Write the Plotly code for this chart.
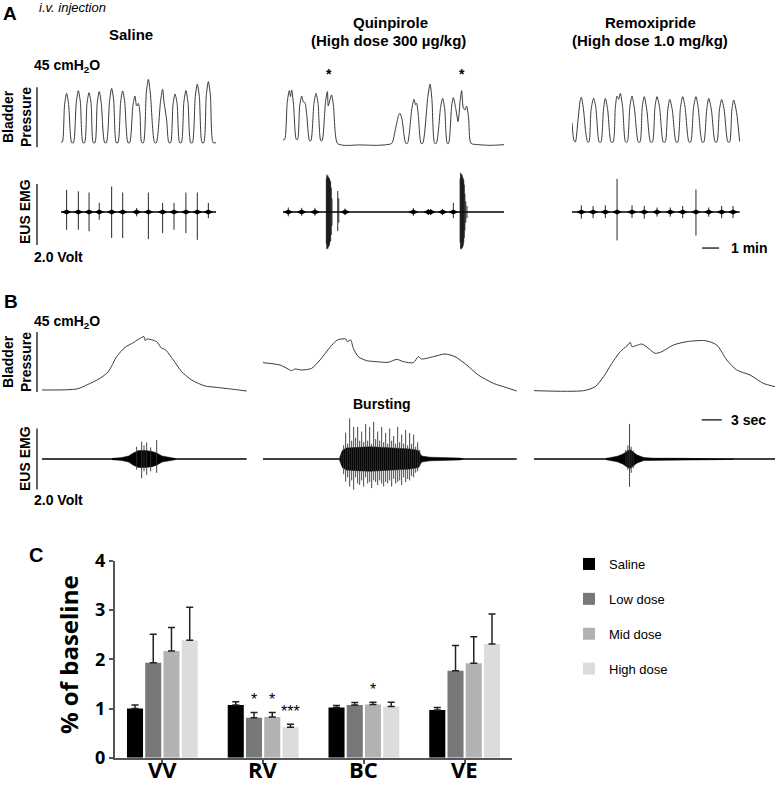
import plotly.graph_objects as go

W, H = 777, 786


def px_x(x):
    return x / W


def px_y(y):
    return 1 - y / H


# ---------------- Panel A : bladder pressure (time in min, cmH2O) ----------------
a_sal_t = [0, 0.08, 0.21, 0.33, 0.45, 0.63, 0.73, 0.90, 1.02, 1.14, 1.29, 1.39,
           1.53, 1.65, 1.77, 1.90, 2.00, 2.13, 2.25, 2.37, 2.57, 2.67, 2.86, 2.98, 3.10,
           3.25, 3.35, 3.51, 3.63, 3.75, 3.94, 4.04, 4.23, 4.35, 4.45, 4.55, 4.65,
           4.75, 4.85, 5.02, 5.14, 5.26, 5.51, 5.61, 5.86, 5.98, 6.06, 6.12, 6.22,
           6.35, 6.45, 6.59, 6.71, 6.83, 6.98, 7.08, 7.23, 7.35, 7.47, 7.63, 7.73,
           7.90, 8.02, 8.14, 8.30, 8.40, 8.55, 8.67, 8.79, 8.95, 9.12]
a_sal_p = [4, 4, 32, 40.5, 32, 3.5, 3.5, 34, 42.5, 34, 3.5, 3.5,
           33, 41, 33, 3.5, 3.5, 33, 41.8, 33, 3.5, 3.5, 35, 44.3, 35,
           3.5, 3.5, 34, 42.3, 34, 3.5, 3.5, 31, 38.5, 31, 33, 25,
           3.5, 3.5, 41, 51, 40, 3.5, 3.5, 35, 43.5, 34, 29, 20,
           3.5, 3.5, 32, 40, 33, 3.5, 3.5, 34, 42.5, 34, 3.5, 3.5,
           38, 47.5, 38, 3.5, 3.5, 39, 49.3, 39, 3.5, 3.5]

a_qui_t = [0, 0.1, 0.25, 0.37, 0.44, 0.51, 0.62, 0.78, 0.86, 0.98, 1.10, 1.20, 1.29, 1.40,
           1.56, 1.64, 1.82, 1.94, 2.06, 2.22, 2.30, 2.50, 2.61, 2.66, 2.75, 2.86, 2.97,
           3.20, 3.60, 4.50, 5.50, 6.10, 6.40, 6.62, 6.80, 6.88, 7.00, 7.22, 7.32,
           7.58, 7.71, 7.80, 7.86, 7.96, 8.12, 8.22, 8.52, 8.65, 8.76, 8.92, 9.02,
           9.27, 9.39, 9.51, 9.66, 9.74, 9.92, 10.02, 10.15, 10.30, 10.42, 10.51, 10.60,
           10.70, 10.80, 10.92, 11.06, 11.5, 12.2, 13.0]
a_qui_p = [5.5, 6, 34, 42.5, 38, 43, 32, 6, 6, 31, 38.5, 34, 33.5, 24,
           5, 5, 33, 40.5, 33, 5, 5, 34, 41.8, 31, 35, 39.3, 31,
           3, 1.5, 1.8, 1.5, 2, 3, 14, 24, 25.5, 21, 3, 3,
           29, 36, 32, 33, 24, 3, 3, 38, 47.5, 36, 3, 3,
           30, 36.8, 29, 3, 3, 31, 37.3, 30, 19.3, 35, 42.5, 30,
           28, 31, 22, 3, 2, 1.5, 2]

a_rem_t = [0.00, 0.12, 0.20, 0.35, 0.48, 0.55, 0.68, 0.80, 0.92,
           1.00, 1.12, 1.27, 1.40, 1.60, 1.70, 1.85, 1.96, 2.10, 2.30,
           2.42, 2.55, 2.65, 2.75, 2.84, 2.98, 3.15,
           3.25, 3.40, 3.53, 3.68, 3.90, 4.00, 4.13, 4.25, 4.40, 4.62,
           4.73, 4.88, 5.00, 5.15, 5.37, 5.48, 5.63, 5.75, 5.90, 6.12,
           6.22, 6.38, 6.51, 6.65, 6.88, 6.98, 7.15, 7.29, 7.42, 7.65,
           7.75, 7.92, 8.04, 8.20, 8.42, 8.52, 8.67, 8.80, 8.95, 9.17,
           9.27, 9.40, 9.51, 9.68, 9.86]
a_rem_p = [18.5, 5, 4, 20, 35, 37.5, 28, 12, 4,
           4, 28, 36.8, 30, 4, 4, 28, 36.8, 28, 4,
           4, 30, 38.5, 36, 40.5, 30, 4,
           4, 30, 38.5, 28, 4, 4, 30, 38, 28, 4,
           4, 30, 38, 30, 4, 4, 28, 36, 28, 4,
           4, 30, 38, 30, 4, 4, 30, 38, 30, 4,
           4, 28, 36.8, 28, 4, 4, 28, 36, 28, 4,
           4, 28, 35.5, 26, 4.3]

# ---------------- Panel A : EUS EMG spikes (time in min, volts) ----------------
a_sal_emg_t = [0.33, 1.02, 1.65, 2.25, 2.98, 3.63, 4.45, 5.14, 5.98, 6.65, 7.35, 8.02, 8.67]
a_sal_emg_hi = [0.73, 0.68, 0.64, 0.30, 0.84, 0.64, 0.13, 0.64, 0.30, 0.30, 0.64, 0.64, 0.30]
a_sal_emg_lo = [-0.58, -0.58, -0.63, -0.25, -0.85, -0.85, -0.14, -0.89, -0.69, -0.58, -0.69, -0.91, -0.20]

a_qui_emg_t = [0.31, 1.10, 1.88, 2.55, 2.58, 2.61, 2.64, 2.67, 2.70, 2.73, 2.76, 2.80, 2.84, 2.88,
               3.22, 3.28, 3.65, 7.67, 8.55, 8.69, 9.39, 10.02,
               10.42, 10.45, 10.48, 10.51, 10.54, 10.57, 10.60, 10.63, 10.66, 10.70, 10.75, 10.82]
a_qui_emg_hi = [0.15, 0.14, 0.14, 1.10, 1.23, 1.18, 1.20, 1.15, 1.12, 1.10, 1.05, 1.00, 0.80, 0.45,
                0.69, 0.45, 0.12, 0.13, 0.10, 0.10, 0.10, 0.30,
                1.10, 1.29, 1.22, 1.25, 1.20, 1.15, 1.10, 1.05, 0.90, 0.60, 0.35, 0.20]
a_qui_emg_lo = [-0.14, -0.12, -0.12, -1.05, -1.22, -1.18, -1.20, -1.15, -1.12, -1.08, -1.00, -0.95, -0.75, -0.45,
                -0.62, -0.35, -0.10, -0.12, -0.10, -0.10, -0.10, -0.20,
                -1.00, -1.20, -1.22, -1.20, -1.18, -1.15, -1.10, -1.00, -0.85, -0.60, -0.35, -0.20]
a_qui_blob_t = [0.31, 1.10, 1.88, 3.65, 7.67, 8.55, 8.69, 9.39, 10.02]

a_rem_emg_t = [0.55, 1.24, 1.96, 2.65, 3.53, 4.25, 5.00, 5.78, 6.51, 7.29, 8.04, 8.80, 9.47]
a_rem_emg_hi = [0.22, 0.20, 0.22, 1.09, 0.22, 0.20, 0.15, 0.15, 0.20, 0.74, 0.15, 0.20, 0.20]
a_rem_emg_lo = [-0.22, -0.20, -0.20, -0.93, -0.20, -0.22, -0.15, -0.15, -0.20, -0.77, -0.15, -0.20, -0.20]

# ---------------- Panel B : single voiding cycle (time in s, cmH2O) ----------------
b_sal_t = [0, 5.2, 6.7, 8.7, 9.95, 11.2, 12.45, 13.7, 14.95, 15.3, 15.5, 15.7, 17.2,
           17.95, 18.45, 19.7, 20.95, 22.45, 24.45, 26.2, 28.7, 30.7]
b_sal_p = [3.75, 4.5, 7.5, 12.5, 17.5, 28.75, 35.75, 39.25, 43.25, 43.75, 40.75, 42, 40,
           35, 34.25, 26.25, 17.5, 11.25, 6.75, 5.75, 4.25, 3]

b_qui_t = [0, 2.55, 3.3, 4.3, 4.8, 5.8, 7.3, 8.55, 10.05, 11.15, 12.45, 12.65, 13.15, 13.55,
           14.3, 15.55, 17.05, 18.8, 20.05, 21.05, 22.55, 23.3, 23.8, 25.55, 27.3, 28.8,
           30.55, 32.3, 34.55, 36.55, 38.05]
b_qui_p = [24.25, 22.5, 20.75, 18.25, 19.5, 18.75, 20, 26.25, 35.75, 41.25, 42, 40, 41.25, 35,
           28.75, 25.75, 25, 24.5, 26.75, 25, 24.25, 28.75, 27, 28.75, 30.75, 28.75,
           22.5, 15, 8.75, 5.5, 3]

b_rem_t = [0, 7.45, 9.2, 10.45, 11.7, 12.95, 13.95, 14.45, 14.7, 16.2, 17.2, 18.2, 19.2,
           20.95, 22.95, 25.7, 27.45, 28.95, 30.45, 32.45, 34.45, 36.2]
b_rem_p = [3.25, 3.25, 6.25, 13.75, 23.75, 32.5, 36.75, 39.5, 36.25, 38.25, 35, 31.25, 32.5,
           37.5, 40, 40.75, 37.5, 26.25, 18.75, 15, 8.75, 6.25]

# ---------------- Panel B : EMG (core envelope + tall spikes, volts) ----------------
b_sal_env_t = [10.5, 12.0, 13.0, 13.7, 14.5, 15.5, 16.5, 17.2, 18.0, 19.0, 20.0]
b_sal_env_a = [0.02, 0.05, 0.10, 0.20, 0.28, 0.28, 0.25, 0.20, 0.10, 0.05, 0.02]
b_sal_sp_t = [14.2, 14.95, 15.3, 15.7, 16.3, 17.2]
b_sal_sp_hi = [0.40, 0.57, 0.45, 0.54, 0.38, 0.62]
b_sal_sp_lo = [-0.35, -0.63, -0.40, -0.52, -0.40, -0.45]

b_qui_env_t = [11.5, 11.9, 12.5, 14.0, 16.0, 18.0, 20.0, 22.0, 23.3, 23.8, 25.0, 27.0, 29.5, 30.0]
b_qui_env_a = [0.05, 0.28, 0.36, 0.38, 0.40, 0.38, 0.36, 0.33, 0.28, 0.10, 0.06, 0.05, 0.03, 0.01]
b_qui_sp_t = [11.8, 12.1, 12.4, 12.7, 13.0, 13.3, 13.6, 13.9, 14.2, 14.5, 14.8, 15.1, 15.4, 15.7,
              16.0, 16.3, 16.6, 16.9, 17.2, 17.5, 17.8, 18.1, 18.4, 18.7, 19.0, 19.3, 19.6,
              19.9, 20.2, 20.5, 20.8, 21.1, 21.4, 21.7, 22.0, 22.3, 22.6, 22.9, 23.2, 23.5]
b_qui_sp_hi = [0.20, 0.45, 0.86, 0.50, 1.33, 0.60, 1.05, 0.70, 1.05, 0.60, 0.90, 0.55, 1.15, 0.60,
               1.05, 0.50, 1.22, 0.65, 0.90, 0.60, 1.05, 0.55, 0.85, 0.50, 1.00, 0.60, 0.75,
               0.50, 1.05, 0.55, 0.80, 0.50, 0.95, 0.45, 0.85, 0.50, 0.80, 0.40, 0.55, 0.30]
b_qui_sp_lo = [-0.15, -0.50, -0.74, -0.60, -0.90, -0.70, -1.00, -0.60, -0.80, -0.85, -0.70, -0.90, -0.60, -0.80,
               -0.75, -0.95, -0.70, -0.75, -0.85, -0.70, -0.80, -0.90, -0.75, -0.80, -0.70, -0.90, -0.65,
               -0.80, -0.75, -0.70, -0.85, -0.60, -0.75, -0.65, -0.70, -0.55, -0.60, -0.45, -0.40, -0.25]

b_rem_env_t = [10.8, 11.5, 12.5, 13.3, 14.0, 14.4, 14.9, 15.5, 16.5, 18.0, 22.0, 25.0, 29.5, 30.0]
b_rem_env_a = [0.02, 0.05, 0.09, 0.16, 0.26, 0.31, 0.23, 0.13, 0.05, 0.025, 0.025, 0.02, 0.015, 0.005]
b_rem_sp_t = [13.8, 14.1, 14.35, 14.6, 14.9]
b_rem_sp_hi = [0.30, 0.45, 1.15, 0.40, 0.28]
b_rem_sp_lo = [-0.25, -0.35, -0.91, -0.45, -0.30]

# ---------------- Panel C : bar chart ----------------
groups = ["VV", "RV", "BC", "VE"]
series_names = ["Saline", "Low dose", "Mid dose", "High dose"]
series_colors = ["#000000", "#787878", "#b2b2b2", "#dcdcdc"]
saline = [1.00, 1.07, 1.02, 0.97]
saline_err = [0.07, 0.07, 0.04, 0.05]
low_dose = [1.93, 0.81, 1.07, 1.77]
low_err = [0.58, 0.11, 0.05, 0.51]
mid_dose = [2.17, 0.83, 1.08, 1.92]
mid_err = [0.48, 0.09, 0.05, 0.54]
high_dose = [2.39, 0.62, 1.04, 2.31]
high_err = [0.67, 0.06, 0.09, 0.61]
sig_group = ["RV", "RV", "RV", "BC"]
sig_series = [1, 2, 3, 2]
sig_text = ["*", "*", "***", "*"]

TRACE_COLOR = "#3a3a3a"


def spikes(t, hi, lo):
    xs, ys = [], []
    for ti, h, l in zip(t, hi, lo):
        xs += [ti, ti, None]
        ys += [l, h, None]
    return xs, ys


def envelope(t, amp):
    return t + t[::-1], amp + [-a for a in amp[::-1]]


fig = go.Figure()

# bladder pressure traces
for xa, ya, t, p in [("x", "y", a_sal_t, a_sal_p), ("x2", "y", a_qui_t, a_qui_p),
                     ("x3", "y", a_rem_t, a_rem_p), ("x4", "y3", b_sal_t, b_sal_p),
                     ("x5", "y3", b_qui_t, b_qui_p), ("x6", "y3", b_rem_t, b_rem_p)]:
    fig.add_trace(go.Scatter(x=t, y=p, xaxis=xa, yaxis=ya, mode="lines",
                             line=dict(color=TRACE_COLOR, width=1, shape="spline", smoothing=0.7),
                             showlegend=False, hoverinfo="skip"))

# EMG baselines
for xa, ya, t_end in [("x", "y2", a_sal_t[-1]), ("x2", "y2", a_qui_t[-1]), ("x3", "y2", a_rem_t[-1]),
                      ("x4", "y4", b_sal_t[-1]), ("x5", "y4", b_qui_t[-1]), ("x6", "y4", b_rem_t[-1])]:
    fig.add_trace(go.Scatter(x=[0, t_end], y=[0, 0], xaxis=xa, yaxis=ya, mode="lines",
                             line=dict(color="black", width=1.5),
                             showlegend=False, hoverinfo="skip"))

# EMG spikes, panel A
for xa, t, hi, lo, blobs in [("x", a_sal_emg_t, a_sal_emg_hi, a_sal_emg_lo, a_sal_emg_t),
                             ("x2", a_qui_emg_t, a_qui_emg_hi, a_qui_emg_lo, a_qui_blob_t),
                             ("x3", a_rem_emg_t, a_rem_emg_hi, a_rem_emg_lo, a_rem_emg_t)]:
    xs, ys = spikes(t, hi, lo)
    fig.add_trace(go.Scatter(x=xs, y=ys, xaxis=xa, yaxis="y2", mode="lines",
                             line=dict(color="#111111", width=0.9), connectgaps=False,
                             showlegend=False, hoverinfo="skip"))
    fig.add_trace(go.Scatter(x=blobs, y=[0] * len(blobs), xaxis=xa, yaxis="y2", mode="markers",
                             marker=dict(symbol="diamond-wide", size=7, color="black"),
                             showlegend=False, hoverinfo="skip"))

# EMG bursts, panel B
for xa, et, ea, st, sh, sl in [("x4", b_sal_env_t, b_sal_env_a, b_sal_sp_t, b_sal_sp_hi, b_sal_sp_lo),
                               ("x5", b_qui_env_t, b_qui_env_a, b_qui_sp_t, b_qui_sp_hi, b_qui_sp_lo),
                               ("x6", b_rem_env_t, b_rem_env_a, b_rem_sp_t, b_rem_sp_hi, b_rem_sp_lo)]:
    ex, ey = envelope(et, ea)
    fig.add_trace(go.Scatter(x=ex, y=ey, xaxis=xa, yaxis="y4", mode="lines", fill="toself",
                             fillcolor="black", line=dict(color="black", width=0.5),
                             showlegend=False, hoverinfo="skip"))
    xs, ys = spikes(st, sh, sl)
    fig.add_trace(go.Scatter(x=xs, y=ys, xaxis=xa, yaxis="y4", mode="lines",
                             line=dict(color="#333333", width=0.9),
                             showlegend=False, hoverinfo="skip"))

# bar chart
bar_values = [saline, low_dose, mid_dose, high_dose]
bar_errors = [saline_err, low_err, mid_err, high_err]
for name, color, vals, errs in zip(series_names, series_colors, bar_values, bar_errors):
    fig.add_trace(go.Bar(x=groups, y=vals, name=name, xaxis="x7", yaxis="y5",
                         marker=dict(color=color, line=dict(width=0)),
                         legendgroup=name,
                         error_y=dict(type="data", array=errs, arrayminus=[0] * len(errs),
                                      symmetric=False, color="#222222", thickness=1.5, width=3.5)))

BARGAP = 0.276
slot = (1 - BARGAP) / 4
annotations = []
for g, s, txt in zip(sig_group, sig_series, sig_text):
    gi = groups.index(g)
    top = bar_values[s][gi] + bar_errors[s][gi]
    annotations.append(dict(x=gi + (s - 1.5) * slot, y=top + 0.05, xref="x7", yref="y5",
                            text=txt, showarrow=False, yanchor="bottom",
                            font=dict(size=16, color="black")))

# category names under the bar groups
for g in groups:
    annotations.append(dict(x=g, y=px_y(785), xref="x7", yref="paper", text=f"<b>{g}</b>",
                            showarrow=False, yanchor="bottom", borderpad=0,
                            font=dict(family="Open Sans", size=22, color="black")))


def label(text, x, y, size=14, xanchor="center", angle=0, family=None):
    d = dict(x=px_x(x), y=px_y(y), xref="paper", yref="paper", text=text, showarrow=False,
             xanchor=xanchor, yanchor="middle", textangle=angle, font=dict(size=size, color="black"))
    if family:
        d["font"]["family"] = family
    annotations.append(d)


label("<b>A</b>", 10, 14, size=19)
label("<i>i.v. injection</i>", 37, 8, size=13, xanchor="left")
label("<b>Saline</b>", 131, 35, size=15)
label("<b>Quinpirole</b>", 390, 23, size=15)
label("<b>(High dose 300 µg/kg)</b>", 388, 40, size=15)
label("<b>Remoxipride</b>", 650, 23, size=15)
label("<b>(High dose 1.0 mg/kg)</b>", 650, 40, size=15)
label("<b>45 cmH<sub>2</sub>O</b>", 32, 66, xanchor="left")
label("<b>Bladder</b>", 8, 117, angle=-90)
label("<b>Pressure</b>", 26, 117, angle=-90)
label("<b>EUS EMG</b>", 25, 212, angle=-90)
label("<b>2.0 Volt</b>", 32, 257, xanchor="left")
label("<b>*</b>", 329, 74, size=14)
label("<b>*</b>", 462, 74, size=14)
label("<b>1 min</b>", 729, 248, xanchor="left")

label("<b>B</b>", 11, 302, size=19)
label("<b>45 cmH<sub>2</sub>O</b>", 32, 322, xanchor="left")
label("<b>Bladder</b>", 8, 362, angle=-90)
label("<b>Pressure</b>", 26, 362, angle=-90)
label("<b>EUS EMG</b>", 25, 459, angle=-90)
label("<b>2.0 Volt</b>", 32, 500, xanchor="left")
label("<b>Bursting</b>", 382, 404)
label("<b>3 sec</b>", 729, 420, xanchor="left")

label("<b>C</b>", 36, 555, size=20)
label("<b>% of baseline</b>", 68, 655, size=24, angle=-90, family="Open Sans")

# scale bars
shapes = [
    dict(type="line", xref="paper", yref="y", x0=px_x(37), x1=px_x(37), y0=0, y1=45,
         line=dict(color="black", width=1.2)),
    dict(type="line", xref="paper", yref="y2", x0=px_x(37), x1=px_x(37), y0=-1.08, y1=0.92,
         line=dict(color="black", width=1.2)),
    dict(type="line", xref="paper", yref="y3", x0=px_x(37), x1=px_x(37), y0=2.25, y1=47.25,
         line=dict(color="black", width=1.2)),
    dict(type="line", xref="paper", yref="y4", x0=px_x(37), x1=px_x(37), y0=-1.0, y1=1.0,
         line=dict(color="black", width=1.2)),
    dict(type="line", xref="x3", yref="y2", x0=7.65, x1=8.65, y0=-1.18, y1=-1.18,
         line=dict(color="black", width=1.2)),
    dict(type="line", xref="x6", yref="y4", x0=25.2, x1=28.2, y0=1.28, y1=1.28,
         line=dict(color="black", width=1.2)),
]

hidden = dict(visible=False, fixedrange=True)


def xdom(l, r):
    return [px_x(l), px_x(r)]


def ydom(top, bottom):
    return [px_y(bottom), px_y(top)]


fig.update_layout(
    width=W, height=H,
    margin=dict(l=0, r=0, t=0, b=0, autoexpand=False),
    paper_bgcolor="white", plot_bgcolor="white",
    font=dict(family="Liberation Sans, Arial, sans-serif", color="black"),
    xaxis=dict(hidden, domain=xdom(61, 216), range=[0, 9.12], anchor="y"),
    xaxis2=dict(hidden, domain=xdom(283, 504), range=[0, 13.0], anchor="y"),
    xaxis3=dict(hidden, domain=xdom(572, 740), range=[0, 9.88], anchor="y"),
    yaxis=dict(hidden, domain=ydom(75, 150), range=[-2, 54.25], anchor="x"),
    yaxis2=dict(hidden, domain=ydom(170, 252), range=[-1.31, 1.38], anchor="x"),
    xaxis4=dict(hidden, domain=xdom(42, 247), range=[0, 30.75], anchor="y3"),
    xaxis5=dict(hidden, domain=xdom(263, 517), range=[0, 38.1], anchor="y3"),
    xaxis6=dict(hidden, domain=xdom(534, 775), range=[0, 36.2], anchor="y3"),
    yaxis3=dict(hidden, domain=ydom(330, 395), range=[0, 48.75], anchor="x4"),
    yaxis4=dict(hidden, domain=ydom(415, 500), range=[-1.34, 1.44], anchor="x4"),
    xaxis7=dict(domain=xdom(115, 512), anchor="y5", type="category", categoryorder="array",
                categoryarray=groups, range=[-0.47, 3.47], showline=True, linecolor="#555555",
                linewidth=2, ticks="outside", ticklen=4, tickwidth=1.5, tickcolor="#555555",
                showgrid=False, zeroline=False, fixedrange=True, automargin=False,
                showticklabels=False),
    yaxis5=dict(domain=ydom(561, 757.7), anchor="x7", range=[0, 4], tickvals=[0, 1, 2, 3, 4],
                showline=True, linecolor="#555555", linewidth=2, ticks="outside", ticklen=4,
                tickwidth=1.5, tickcolor="#555555", showgrid=False, zeroline=False, fixedrange=True,
                automargin=False,
                tickfont=dict(family="Open Sans", size=18, weight="bold", color="black")),
    barmode="group", bargap=BARGAP, bargroupgap=0.12,
    showlegend=True,
    legend=dict(x=px_x(569), y=px_y(549), xanchor="left", yanchor="top",
                font=dict(size=13, color="black"), tracegroupgap=15,
                bgcolor="rgba(0,0,0,0)", itemclick=False, itemdoubleclick=False),
    annotations=annotations,
    shapes=shapes,
)

# the default page has an 8px body margin; drop it so the figure fills the window
fig.write_html("out.html", config={"displayModeBar": False},
               post_script="document.body.style.margin = '0';")
